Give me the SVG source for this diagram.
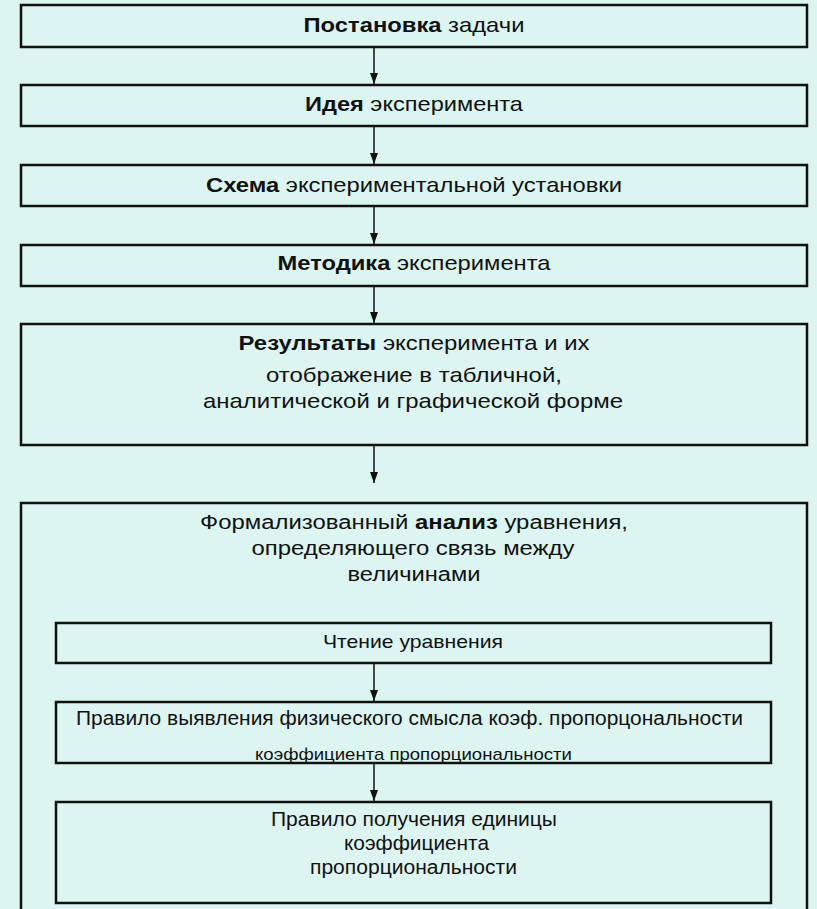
<svg xmlns="http://www.w3.org/2000/svg" width="817" height="909" viewBox="0 0 817 909">
<defs>
<style>
.box{fill:#DCF5F1;stroke:#111;stroke-width:2.5}
.t{font-family:"Liberation Sans",Arial,sans-serif;fill:#111;text-anchor:middle}
.b{font-weight:bold}
.c{stroke:#111;stroke-width:1.5;fill:none}
</style>
<marker id="ad" markerWidth="11" markerHeight="8" refX="11" refY="4" orient="auto" markerUnits="userSpaceOnUse" viewBox="0 0 11 8">
<path d="M0,0 L11,4 L0,8 Z" fill="#111"/>
</marker>
</defs>
<rect width="817" height="909" fill="#DCF5F1"/>
<g id="n1"><rect class="box" x="21" y="5" width="786" height="42"/>
<text class="t" x="414" y="32" font-size="21" textLength="221" lengthAdjust="spacingAndGlyphs"><tspan class="b">Постановка</tspan> задачи</text></g>
<g id="n2"><rect class="box" x="21" y="85" width="786" height="41"/>
<text class="t" x="414" y="111" font-size="21" textLength="218" lengthAdjust="spacingAndGlyphs"><tspan class="b">Идея</tspan> эксперимента</text></g>
<g id="n3"><rect class="box" x="21" y="165" width="786" height="41"/>
<text class="t" x="414" y="192" font-size="21" textLength="416" lengthAdjust="spacingAndGlyphs"><tspan class="b">Схема</tspan> экспериментальной установки</text></g>
<g id="n4"><rect class="box" x="21" y="245" width="786" height="41"/>
<text class="t" x="414" y="270" font-size="21" textLength="273" lengthAdjust="spacingAndGlyphs"><tspan class="b">Методика</tspan> эксперимента</text></g>
<g id="n5"><rect class="box" x="21" y="324" width="786" height="121"/>
<text class="t" x="414" y="350" font-size="21" textLength="351" lengthAdjust="spacingAndGlyphs"><tspan class="b">Результаты</tspan> эксперимента и их</text>
<text class="t" x="414" y="382" font-size="21" textLength="296" lengthAdjust="spacingAndGlyphs">отображение в табличной,</text>
<text class="t" x="413" y="408" font-size="21" textLength="420" lengthAdjust="spacingAndGlyphs">аналитической и графической форме</text></g>
<g id="n6"><rect class="box" x="21" y="503" width="786" height="420"/>
<text class="t" x="414" y="529" font-size="20" textLength="428" lengthAdjust="spacingAndGlyphs">Формализованный <tspan class="b">анализ</tspan> уравнения,</text>
<text class="t" x="413" y="555" font-size="20" textLength="323" lengthAdjust="spacingAndGlyphs">определяющего связь между</text>
<text class="t" x="414" y="581" font-size="20" textLength="133" lengthAdjust="spacingAndGlyphs">величинами</text></g>
<g id="n7"><rect class="box" x="56" y="623" width="715" height="40"/>
<text class="t" x="413" y="648" font-size="18.5" textLength="180" lengthAdjust="spacingAndGlyphs">Чтение уравнения</text></g>
<g id="n8"><rect class="box" x="56" y="702" width="715" height="61"/>
<text class="t" x="409.5" y="725" font-size="19.5" textLength="667" lengthAdjust="spacingAndGlyphs">Правило выявления физического смысла коэф. пропорцональности</text>
<text class="t" x="413.5" y="760" font-size="17" textLength="317" lengthAdjust="spacingAndGlyphs">коэффициента пропорциональности</text></g>
<g id="n9"><rect class="box" x="56" y="802" width="715" height="101"/>
<text class="t" x="414" y="826" font-size="19.5" textLength="286" lengthAdjust="spacingAndGlyphs">Правило получения единицы</text>
<text class="t" x="416.5" y="850" font-size="19.5" textLength="145" lengthAdjust="spacingAndGlyphs">коэффициента</text>
<text class="t" x="413.5" y="874" font-size="19.5" textLength="207" lengthAdjust="spacingAndGlyphs">пропорциональности</text></g>
<g id="connectors">
<line class="c" x1="374" y1="47" x2="374" y2="84" marker-end="url(#ad)"/>
<line class="c" x1="374" y1="126" x2="374" y2="164" marker-end="url(#ad)"/>
<line class="c" x1="374" y1="206" x2="374" y2="244" marker-end="url(#ad)"/>
<line class="c" x1="374" y1="286" x2="374" y2="323" marker-end="url(#ad)"/>
<line class="c" x1="374" y1="445" x2="374" y2="483" marker-end="url(#ad)"/>
<line class="c" x1="374" y1="663" x2="374" y2="701" marker-end="url(#ad)"/>
<line class="c" x1="374" y1="763" x2="374" y2="801" marker-end="url(#ad)"/>
</g>
</svg>
